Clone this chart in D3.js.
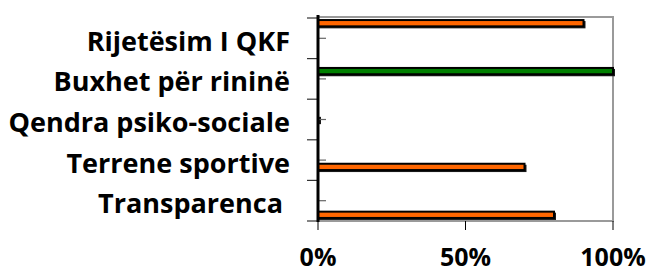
<!DOCTYPE html>
<html>
<head>
<meta charset="utf-8">
<script src="https://cdn.jsdelivr.net/npm/d3@7/dist/d3.min.js"></script>
<style>
  body { margin:0; background:#fff; }
  text { font-family: "Open Sans", Lato, sans-serif; font-weight:bold; fill:#000; }
</style>
</head>
<body>
<div id="chart"></div>
<script>
// categories, top to bottom
const categories = ['Rijetësim I QKF', 'Buxhet për rininë', 'Qendra psiko-sociale', 'Terrene sportive', 'Transparenca '];
// one series per category (clustered chart, each series has a single value)
const seriesValues = [
  [0.90, null, null, null, null],
  [null, 1.00, null, null, null],
  [null, null, 0.00, null, null],
  [null, null, null, 0.70, null],
  [null, null, null, null, 0.80]
];
const seriesColors = ['#ff6600', '#008000', '#ff6600', '#ff6600', '#ff6600'];
const xTicks = [0, 0.5, 1];

(function(){
  const width = 651, height = 274;
  const margin = {top:18, right:38, bottom:53, left:318};
  const innerW = 613 - margin.left;
  const innerH = 221 - margin.top;

  const svg = d3.select('#chart').append('svg')
    .attr('width', width)
    .attr('height', height);
  const g = svg.append('g')
    .attr('transform', `translate(${margin.left},${margin.top})`);

  const x = d3.scaleLinear().domain([0, 1]).range([0, innerW]);
  const y = d3.scaleBand().domain(categories).range([0, innerH]);
  const ys = d3.scaleBand().domain(d3.range(seriesValues.length))
    .range([0, y.bandwidth()]).paddingOuter(0.28);

  // plot area border
  g.append('rect')
    .attr('x', 0).attr('y', -1)
    .attr('width', innerW).attr('height', innerH + 1)
    .attr('fill', 'none')
    .attr('stroke', '#9a9a9a')
    .attr('stroke-width', 2);

  // bars
  seriesValues.forEach((vals, si) => {
    const data = categories.map((c, i) => ({cat:c, v:vals[i]})).filter(d => d.v !== null);
    const bars = g.append('g').selectAll('g').data(data).enter().append('g');
    const bh = ys.bandwidth();
    // depth / shadow
    bars.append('rect')
      .attr('x', 1)
      .attr('y', d => y(d.cat) + ys(si) + 1)
      .attr('width', d => Math.max(2, x(d.v) + 1))
      .attr('height', bh)
      .attr('fill', '#1a1a1a');
    bars.append('rect')
      .attr('x', 0)
      .attr('y', d => y(d.cat) + ys(si))
      .attr('width', d => x(d.v))
      .attr('height', bh - 1)
      .attr('fill', seriesColors[si])
      .attr('stroke', '#000')
      .attr('stroke-width', 2);
  });

  // left axis: major ticks outside at band edges, minor ticks inside at centres
  const edges = categories.map(c => y(c)).concat([innerH]);
  g.append('g').selectAll('line').data(edges).enter().append('line')
    .attr('x1', -11).attr('x2', 0)
    .attr('y1', d => d).attr('y2', d => d)
    .attr('stroke', '#333').attr('stroke-width', 1.2);
  g.append('g').selectAll('line').data(categories).enter().append('line')
    .attr('x1', 0).attr('x2', 8)
    .attr('y1', d => y(d) + y.bandwidth() / 2).attr('y2', d => y(d) + y.bandwidth() / 2)
    .attr('stroke', '#666').attr('stroke-width', 1.2);
  g.append('line')
    .attr('x1', 0).attr('x2', 0)
    .attr('y1', -3).attr('y2', innerH + 1)
    .attr('stroke', '#000').attr('stroke-width', 3);

  // category labels
  g.append('g').selectAll('text').data(categories).enter().append('text')
    .attr('x', 290 - margin.left)
    .attr('y', d => y(d) + y.bandwidth() / 2 + 2)
    .attr('text-anchor', 'end')
    .attr('dominant-baseline', 'central')
    .style('white-space', 'pre')
    .style('font-size', '27px')
    .text(d => d);

  // bottom axis
  const xa = g.append('g').attr('transform', `translate(0,${innerH})`);
  xa.selectAll('line').data(xTicks).enter().append('line')
    .attr('x1', d => x(d)).attr('x2', d => x(d))
    .attr('y1', 0).attr('y2', 9)
    .attr('stroke', '#000').attr('stroke-width', 1);
  xa.selectAll('text').data(xTicks).enter().append('text')
    .attr('x', d => x(d))
    .attr('y', 45)
    .attr('text-anchor', 'middle')
    .style('font-size', '25px')
    .text(d3.format('.0%'));
})();
</script>
</body>
</html>
